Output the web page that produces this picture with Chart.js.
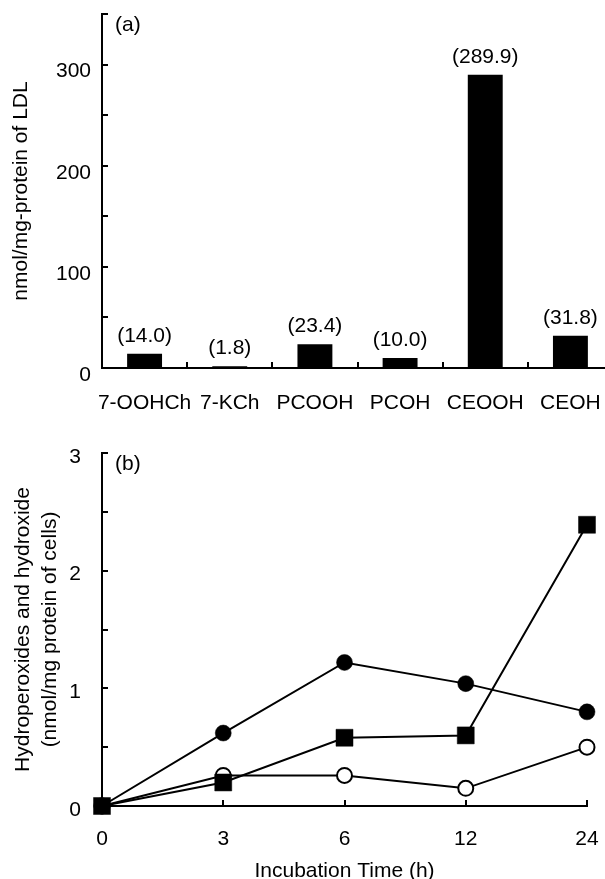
<!DOCTYPE html>
<html lang="en">
<head>
    <meta charset="UTF-8">
    <title>Oxidized LDL products and time course</title>
    <script src="https://cdn.jsdelivr.net/npm/chart.js"></script>
    <style>
        html, body { margin: 0; padding: 0; background: #fff; overflow: hidden; }
        #wrapA { position: absolute; left: 0; top: 0; width: 620px; height: 420px; }
        #wrapB { position: absolute; left: 0; top: 430px; width: 605px; height: 449px; }
    </style>
</head>
<body>
    <div id="wrapA"><canvas id="chartA"></canvas></div>
    <div id="wrapB"><canvas id="chartB"></canvas></div>

    <script>
        // Panel (a): products in LDL
        const products = ['7-OOHCh', '7-KCh', 'PCOOH', 'PCOH', 'CEOOH', 'CEOH'];
        const productValues = [14.0, 1.8, 23.4, 10.0, 289.9, 31.8];

        // Panel (b): time course in cells
        const hours = ['0', '3', '6', '12', '24'];
        const filledCircle = [0, 0.62, 1.22, 1.04, 0.80];
        const filledSquare = [0, 0.20, 0.58, 0.60, 2.39];
        const openCircle = [0, 0.26, 0.26, 0.15, 0.50];

        Chart.defaults.font.family = "'Liberation Sans', Arial, sans-serif";
        Chart.defaults.font.size = 21;
        Chart.defaults.color = '#000';

        // short tick marks pointing into the plot
        const inwardTicks = {
            id: 'inwardTicks',
            beforeDatasetsDraw(chart, args, opts) {
                const { ctx, chartArea, scales: { x, y } } = chart;
                const len = 6;
                ctx.save();
                ctx.strokeStyle = '#000';
                ctx.lineWidth = 2;
                ctx.beginPath();
                y.ticks.forEach(t => {
                    if (t.value === y.min) return;
                    const py = Math.round(y.getPixelForValue(t.value));
                    ctx.moveTo(chartArea.left, py);
                    ctx.lineTo(chartArea.left + len, py);
                });
                const n = x.ticks.length;
                for (let i = 1; i < n; i++) {
                    let px;
                    if (opts.mode === 'between') {
                        px = (x.getPixelForValue(i - 1) + x.getPixelForValue(i)) / 2;
                    } else {
                        px = x.getPixelForValue(i);
                    }
                    px = Math.round(px);
                    ctx.moveTo(px, chartArea.bottom);
                    ctx.lineTo(px, chartArea.bottom - len);
                }
                if (opts.mode === 'between') {
                    const px = Math.round(x.getPixelForValue(n - 1) + (x.getPixelForValue(n - 1) - x.getPixelForValue(n - 2)) / 2);
                    ctx.moveTo(px, chartArea.bottom);
                    ctx.lineTo(px, chartArea.bottom - len);
                }
                ctx.stroke();
                ctx.restore();
            }
        };

        // values in brackets above bars
        const barLabels = {
            id: 'barLabels',
            afterDatasetsDraw(chart) {
                const { ctx } = chart;
                const meta = chart.getDatasetMeta(0);
                ctx.save();
                ctx.fillStyle = '#000';
                ctx.font = "21px 'Liberation Sans', Arial, sans-serif";
                ctx.textAlign = 'center';
                ctx.textBaseline = 'middle';
                meta.data.forEach((bar, i) => {
                    const v = chart.data.datasets[0].data[i];
                    ctx.fillText('(' + v.toFixed(1) + ')', bar.x, bar.y - 18);
                });
                ctx.restore();
            }
        };

        const panelLetter = {
            id: 'panelLetter',
            afterDraw(chart, args, opts) {
                const { ctx, chartArea } = chart;
                ctx.save();
                ctx.fillStyle = '#000';
                ctx.font = "21px 'Liberation Sans', Arial, sans-serif";
                ctx.textAlign = 'left';
                ctx.textBaseline = 'middle';
                ctx.fillText(opts.text, chartArea.left + 13, chartArea.top + 11);
                ctx.restore();
            }
        };

        const axisBorder = { display: true, color: '#000', width: 2 };

        function fixY(width) {
            return s => { s.width = width; s.paddingTop = 0; s.paddingBottom = 0; };
        }
        function fixX(height) {
            return s => { s.height = height; s.paddingLeft = 0; s.paddingRight = 0; };
        }

        new Chart(document.getElementById('chartA'), {
            type: 'bar',
            data: {
                labels: products,
                datasets: [{
                    data: productValues,
                    backgroundColor: '#000',
                    borderWidth: 0,
                    barPercentage: 0.41,
                    categoryPercentage: 1
                }]
            },
            options: {
                responsive: true,
                maintainAspectRatio: false,
                animation: false,
                layout: { padding: { top: 14, right: 7, left: 0, bottom: 0 } },
                plugins: {
                    legend: { display: false },
                    tooltip: { enabled: false },
                    inwardTicks: { mode: 'between' },
                    panelLetter: { text: '(a)' }
                },
                scales: {
                    x: {
                        grid: { display: false, drawTicks: false },
                        border: axisBorder,
                        ticks: { padding: 23, autoSkip: false, maxRotation: 0 },
                        afterFit: fixX(52)
                    },
                    y: {
                        min: 0,
                        max: 350,
                        grid: { display: false, drawTicks: false },
                        border: axisBorder,
                        ticks: {
                            stepSize: 50,
                            padding: 11,
                            labelOffset: 7,
                            autoSkip: false,
                            callback: v => (v % 100 === 0 ? v : '')
                        },
                        title: {
                            display: true,
                            text: 'nmol/mg-protein of LDL',
                            padding: { top: 9, bottom: 0 }
                        },
                        afterFit: fixY(102)
                    }
                }
            },
            plugins: [inwardTicks, barLabels, panelLetter]
        });

        function lineSet(data, style, radius, fill, order) {
            return {
                data: data,
                borderColor: '#000',
                borderWidth: 2,
                tension: 0,
                fill: false,
                clip: false,
                order: order,
                pointStyle: style,
                pointRadius: radius,
                pointBackgroundColor: fill,
                pointBorderColor: '#000',
                pointBorderWidth: fill === '#fff' ? 2 : 0.5
            };
        }

        new Chart(document.getElementById('chartB'), {
            type: 'line',
            data: {
                labels: hours,
                datasets: [
                    lineSet(filledCircle, 'circle', 8, '#000', 0),
                    lineSet(filledSquare, 'rect', 12, '#000', 1),
                    lineSet(openCircle, 'circle', 7.5, '#fff', 2)
                ]
            },
            options: {
                responsive: true,
                maintainAspectRatio: false,
                animation: false,
                layout: { padding: { top: 23, right: 18, left: 0, bottom: 0 } },
                plugins: {
                    legend: { display: false },
                    tooltip: { enabled: false },
                    inwardTicks: { mode: 'on' },
                    panelLetter: { text: '(b)' }
                },
                scales: {
                    x: {
                        offset: false,
                        grid: { display: false, drawTicks: false },
                        border: axisBorder,
                        ticks: { padding: 21, autoSkip: false, maxRotation: 0 },
                        title: {
                            display: true,
                            text: 'Incubation Time (h)',
                            font: { size: 21, lineHeight: 1 },
                            padding: { top: 0, bottom: -3 }
                        },
                        afterFit: fixX(73)
                    },
                    y: {
                        min: 0,
                        max: 3,
                        grid: { display: false, drawTicks: false },
                        border: axisBorder,
                        ticks: {
                            stepSize: 0.5,
                            padding: 21,
                            labelOffset: 4,
                            autoSkip: false,
                            callback: v => (Number.isInteger(v) ? v : '')
                        },
                        title: {
                            display: true,
                            text: ['Hydroperoxides and hydroxide', '(nmol/mg protein of cells)'],
                            font: { size: 21, lineHeight: '27px' },
                            padding: { top: 9.5, bottom: 0 }
                        },
                        afterFit: fixY(102)
                    }
                }
            },
            plugins: [inwardTicks, panelLetter]
        });
    </script>
</body>
</html>
